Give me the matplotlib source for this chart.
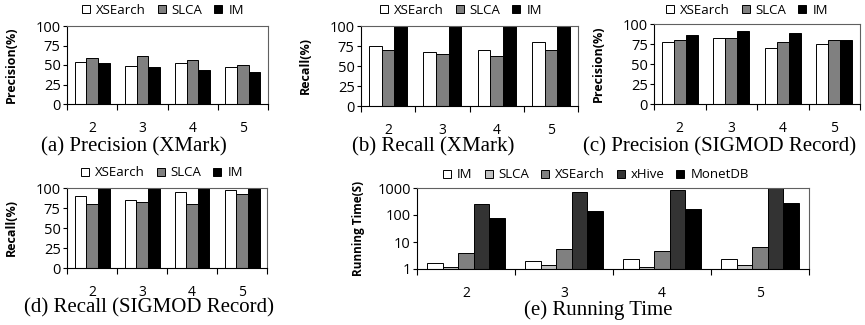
import numpy as np
import matplotlib
matplotlib.use("Agg")
import matplotlib.pyplot as plt

# data
queries = ["2", "3", "4", "5"]

prec_xmark_xsearch = [54, 49, 52, 47]
prec_xmark_slca = [59, 62, 57, 50]
prec_xmark_im = [52, 47, 44, 41]

rec_xmark_xsearch = [75, 68, 70, 80]
rec_xmark_slca = [70, 65, 63, 70]
rec_xmark_im = [100, 100, 100, 100]

prec_sig_xsearch = [78, 83, 70, 75]
prec_sig_slca = [80, 83, 78, 80]
prec_sig_im = [86, 91, 89, 80]

rec_sig_xsearch = [90, 85, 95, 97]
rec_sig_slca = [80, 82, 80, 92]
rec_sig_im = [100, 100, 100, 100]

time_im = [1.6, 1.9, 2.3, 2.3]
time_slca = [1.18, 1.37, 1.15, 1.37]
time_xsearch = [3.8, 5.3, 4.6, 6.3]
time_xhive = [265, 735, 870, 1200]
time_monetdb = [80, 138, 164, 272]

W, H = 865, 325
fig = plt.figure(figsize=(W / 100, H / 100), dpi=100)

SANS = "Open Sans"
SERIF = "Liberation Serif"


def add_ax(x0, y0, x1, y1):
    # pixel box (top-left origin) -> figure fraction
    return fig.add_axes([x0 / W, 1 - y1 / H, (x1 - x0) / W, (y1 - y0) / H])


def style(ax, n, ylabel, label_x, ylab_size=9):
    ax.set_xlim(-0.5, n - 0.5)
    ax.set_xticks(np.arange(n))
    ax.set_xticklabels(queries, fontsize=10, family=SANS)
    ax.set_xticks(np.arange(n + 1) - 0.5, minor=True)
    ax.tick_params(axis="x", which="major", length=0, pad=12)
    ax.tick_params(axis="x", which="minor", length=4, width=0.8, direction="out")
    ax.tick_params(axis="y", length=3, width=0.8, direction="out", pad=1.5,
                   labelsize=10.5)
    for lab in ax.get_yticklabels():
        lab.set_family(SANS)
    ax.spines["left"].set_color("black")
    ax.spines["bottom"].set_color("black")
    ax.spines["top"].set_color("#606060")
    ax.spines["right"].set_color("#606060")
    for s in ax.spines.values():
        s.set_linewidth(0.8)
    ax.set_ylabel(ylabel, fontsize=ylab_size, fontweight="bold", family=SANS)
    ax.yaxis.set_label_coords(label_x, 0.5)


def bars(ax, series, colors, names, total):
    n = len(series)
    w = total / n
    x = np.arange(len(queries))
    for i, (vals, c, nm) in enumerate(zip(series, colors, names)):
        ax.bar(x + (i - (n - 1) / 2) * w, vals, w, color=c, edgecolor="black",
               linewidth=0.7, label=nm)


def legend(ax, cx, cy, ncol, spacing=0.9):
    fig.legend(*ax.get_legend_handles_labels(), loc="center",
               bbox_to_anchor=(cx / W, 1 - cy / H), ncol=ncol, frameon=False,
               handlelength=0.6, handleheight=0.6, handletextpad=0.45,
               columnspacing=spacing, borderpad=0, borderaxespad=0,
               prop={"family": SANS, "size": 9.5})


def caption(text, cx, cy):
    fig.text(cx / W, 1 - cy / H, text, ha="center", va="center",
             family=SERIF, fontsize=15)


pr_names = ["XSEarch", "SLCA", "IM"]
pr_colors = ["white", "#808080", "black"]

panels = [
    ((67, 26, 268, 104), [prec_xmark_xsearch, prec_xmark_slca, prec_xmark_im],
     "Precision(%)", (163, 10), "(a) Precision (XMark)", (134, 147)),
    ((361, 26, 578, 106), [rec_xmark_xsearch, rec_xmark_slca, rec_xmark_im],
     "Recall(%)", (461, 10), "(b) Recall (XMark)", (433, 147)),
    ((654, 24, 860, 104), [prec_sig_xsearch, prec_sig_slca, prec_sig_im],
     "Precision(%)", (747, 10), "(c) Precision (SIGMOD Record)", (720, 147)),
    ((67, 188, 267, 268), [rec_sig_xsearch, rec_sig_slca, rec_sig_im],
     "Recall(%)", (162, 173), "(d) Recall (SIGMOD Record)", (149, 308)),
]

for box, series, ylab, leg, cap, cap_pos in panels:
    ax = add_ax(*box)
    bars(ax, series, pr_colors, pr_names, 0.7)
    ax.set_ylim(0, 100)
    ax.set_yticks([0, 25, 50, 75, 100])
    style(ax, len(queries), ylab, -49 / (box[2] - box[0]))
    legend(ax, leg[0], leg[1], 3)
    caption(cap, *cap_pos)

# (e) running time, log scale
ax = add_ax(417, 188, 809, 269)
bars(ax, [time_im, time_slca, time_xsearch, time_xhive, time_monetdb],
     ["white", "#c0c0c0", "#808080", "#333333", "black"],
     ["IM", "SLCA", "XSEarch", "xHive", "MonetDB"], 0.79)
ax.set_yscale("log")
ax.set_ylim(1, 1000)
ax.set_yticks([1, 10, 100, 1000])
ax.set_yticklabels(["1", "10", "100", "1000"])
ax.minorticks_off()
style(ax, len(queries), "Running Time(S)", -52 / (809 - 417), ylab_size=8.5)
legend(ax, 596, 175, 5)
caption("(e) Running Time", 598, 310)

fig.savefig("out.png", dpi=100)
